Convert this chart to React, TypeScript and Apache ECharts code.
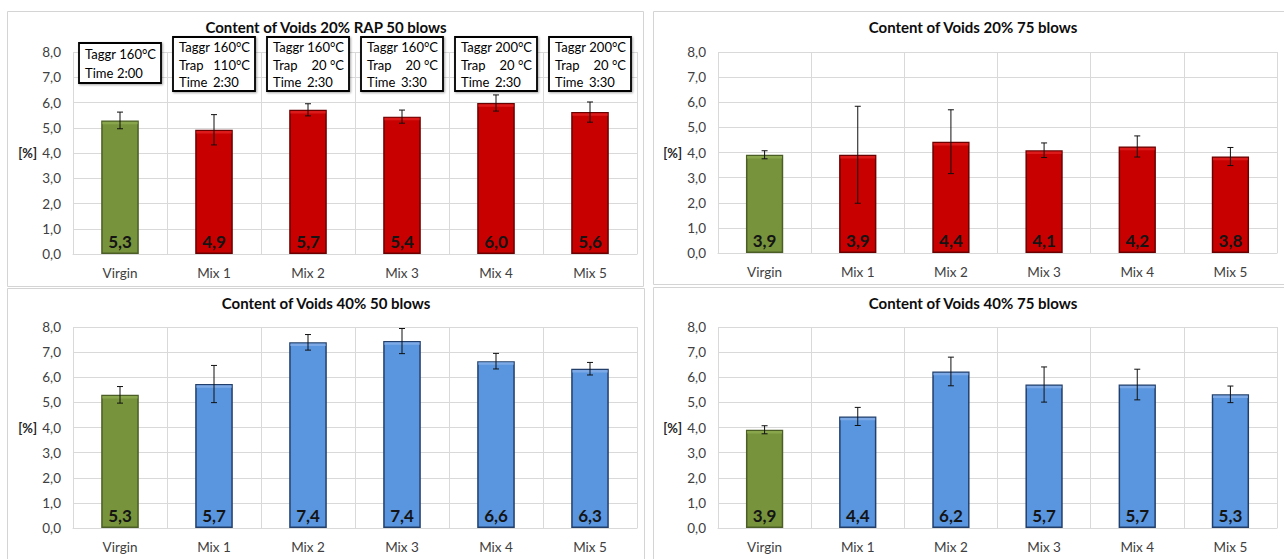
import React, { useEffect, useRef } from 'react';
import * as echarts from 'echarts';

const categories = ['Virgin', 'Mix 1', 'Mix 2', 'Mix 3', 'Mix 4', 'Mix 5'];

const titles = [
  'Content of Voids 20% RAP 50 blows',
  'Content of Voids 20% 75 blows',
  'Content of Voids 40% 50 blows',
  'Content of Voids 40% 75 blows',
];

// mean void content [%]
const voids20Rap50 = [5.29, 4.92, 5.71, 5.44, 5.98, 5.62];
const voids20Rap75 = [3.91, 3.91, 4.43, 4.09, 4.24, 3.84];
const voids40Rap50 = [5.3, 5.73, 7.39, 7.44, 6.64, 6.34];
const voids40Rap75 = [3.91, 4.44, 6.23, 5.71, 5.71, 5.32];

// standard deviations (error bars)
const err20Rap50 = [0.33, 0.6, 0.24, 0.26, 0.32, 0.4];
const err20Rap75 = [0.16, 1.93, 1.27, 0.29, 0.42, 0.36];
const err40Rap50 = [0.33, 0.74, 0.31, 0.5, 0.31, 0.25];
const err40Rap75 = [0.16, 0.36, 0.57, 0.7, 0.61, 0.33];

// y axis
const yMin = 0;
const yMax = 8;
const yStep = 1;

// annotation boxes of the first panel
const boxTaggr = ['160°C', '160°C', '160°C', '160°C', '200°C', '200°C'];
const boxTrap = ['', '110°C', '20 °C', '20 °C', '20 °C', '20 °C'];
const boxTime = ['2:00', '2:30', '2:30', '3:30', '2:30', '3:30'];

const FONT = 'Lato, "Open Sans", sans-serif';

const fmt = (v: number) => v.toFixed(1).replace('.', ',');

const PAL = {
  green: { fill: '#77933C', border: '#4A5E25', hl: '#8AA64C' },
  red: { fill: '#C80000', border: '#6A0000', hl: '#DC1A1A' },
  blue: { fill: '#5A96DF', border: '#223F6B', hl: '#7DAAE6' },
};

const grids = [
  { left: 73, top: 52, width: 564, height: 202 },
  { left: 718, top: 52, width: 559, height: 201 },
  { left: 73, top: 327, width: 564, height: 201 },
  { left: 718, top: 327, width: 559, height: 201 },
];

const panels = [
  { title: titles[0], values: voids20Rap50, errors: err20Rap50, main: PAL.red, tx: 326, ty: 27 },
  { title: titles[1], values: voids20Rap75, errors: err20Rap75, main: PAL.red, tx: 973, ty: 27 },
  { title: titles[2], values: voids40Rap50, errors: err40Rap50, main: PAL.blue, tx: 326, ty: 303 },
  { title: titles[3], values: voids40Rap75, errors: err40Rap75, main: PAL.blue, tx: 973, ty: 303 },
];

const borders = [
  { x: 7, y: 11, width: 636, height: 275 },
  { x: 653, y: 11, width: 660, height: 273 },
  { x: 7, y: 288, width: 637, height: 290 },
  { x: 653, y: 287, width: 660, height: 290 },
];

export default function App() {
  const ref = useRef<HTMLDivElement>(null);

  useEffect(() => {
    if (!ref.current) return;
    const chart = echarts.init(ref.current, undefined, { renderer: 'svg' });

    const colorOf = (p: number, i: number) => (i === 0 ? PAL.green : panels[p].main);

    const xAxis = panels.map((_, i) => ({
      type: 'category',
      gridIndex: i,
      data: categories,
      axisLine: { show: true, lineStyle: { color: '#d9d9d9', width: 1 } },
      axisTick: { show: false },
      splitLine: { show: true, lineStyle: { color: '#d9d9d9', width: 1 } },
      axisLabel: { color: '#404040', fontSize: 13.5, margin: 12, fontFamily: FONT },
    }));

    const yAxis = panels.map((_, i) => ({
      type: 'value',
      gridIndex: i,
      min: yMin,
      max: yMax,
      interval: yStep,
      name: '[%]',
      nameLocation: 'middle',
      nameRotate: 0,
      nameGap: 36,
      nameTextStyle: { color: '#262626', fontSize: 13, fontWeight: 'bold', fontFamily: FONT },
      axisLine: { show: false },
      axisTick: { show: false },
      splitLine: { show: true, lineStyle: { color: '#d9d9d9', width: 1 } },
      axisLabel: {
        color: '#404040',
        fontSize: 13.5,
        margin: 12,
        fontFamily: FONT,
        formatter: (v: number) => fmt(v),
      },
    }));

    const series: any[] = [];
    panels.forEach((p, pi) => {
      series.push({
        type: 'bar',
        xAxisIndex: pi,
        yAxisIndex: pi,
        barWidth: '40%',
        data: p.values.map((v, i) => ({
          value: v,
          itemStyle: {
            color: colorOf(pi, i).fill,
            borderColor: colorOf(pi, i).border,
            borderWidth: 1.5,
          },
        })),
        label: {
          show: true,
          position: 'insideBottom',
          distance: 4,
          formatter: (d: any) => fmt(d.value),
          color: '#141414',
          fontSize: 17,
          fontWeight: 'bold',
          fontFamily: FONT,
        },
        z: 2,
      });
      series.push({
        type: 'custom',
        xAxisIndex: pi,
        yAxisIndex: pi,
        z: 5,
        silent: true,
        encode: { x: 0, y: 1 },
        data: p.values.map((v, i) => [i, v, p.errors[i]]),
        renderItem: (params: any, api: any) => {
          const idx = api.value(0);
          const v = api.value(1);
          const e = api.value(2);
          const c = api.coord([idx, v]);
          const top = api.coord([idx, v + e]);
          const bot = api.coord([idx, v - e]);
          const band = api.size([1, 0])[0];
          const bw = band * 0.4;
          const col = colorOf(pi, params.dataIndex);
          const cap = 3;
          const ls = { stroke: '#111', lineWidth: 1 };
          return {
            type: 'group',
            children: [
              {
                type: 'rect',
                shape: { x: c[0] - bw / 2 + 1.2, y: c[1] + 1.2, width: bw - 2.4, height: 2.5 },
                style: { fill: col.hl },
              },
              { type: 'line', shape: { x1: c[0], y1: top[1], x2: c[0], y2: bot[1] }, style: ls },
              { type: 'line', shape: { x1: c[0] - cap, y1: top[1], x2: c[0] + cap, y2: top[1] }, style: ls },
              { type: 'line', shape: { x1: c[0] - cap, y1: bot[1], x2: c[0] + cap, y2: bot[1] }, style: ls },
            ],
          };
        },
      });
    });

    chart.setOption({
      animation: false,
      backgroundColor: '#ffffff',
      grid: grids.map((g) => ({ ...g, containLabel: false })),
      xAxis,
      yAxis,
      series,
    });

    const graphic: any[] = [];
    borders.forEach((b) => {
      graphic.push({
        type: 'rect',
        z: -10,
        shape: { x: b.x + 0.5, y: b.y + 0.5, width: b.width, height: b.height },
        style: { fill: 'none', stroke: '#d4d4d4', lineWidth: 1 },
        silent: true,
      });
    });
    panels.forEach((p) => {
      graphic.push({
        type: 'text',
        x: p.tx,
        y: p.ty,
        style: {
          text: p.title,
          fill: '#0d0d0d',
          font: `bold 15px ${FONT}`,
          textAlign: 'center',
          textVerticalAlign: 'middle',
        },
      });
    });

    const gTop = grids[0].top;
    categories.forEach((_, i) => {
      const px = chart.convertToPixel({ gridIndex: 0 }, [i, 0]) as number[];
      const cx = px[0];
      const w = 82;
      const left = cx - w / 2;
      const hasTrap = boxTrap[i] !== '';
      const top = hasTrap ? gTop - 15 : gTop - 9;
      const h = hasTrap ? 54 : 40;
      const lines: { label: string; value: string; right: boolean }[] = [
        { label: 'Taggr', value: boxTaggr[i], right: true },
      ];
      if (hasTrap) lines.push({ label: 'Trap', value: boxTrap[i], right: true });
      lines.push({ label: 'Time', value: boxTime[i], right: false });
      const lineH = hasTrap ? 17.5 : 19;
      const firstY = hasTrap ? top + 10 : top + 11;
      const children: any[] = [
        {
          type: 'rect',
          shape: { x: left, y: top, width: w, height: h },
          style: {
            fill: '#ffffff',
            stroke: '#000',
            lineWidth: 1.8,
            shadowBlur: 2,
            shadowOffsetX: 1,
            shadowOffsetY: 1,
            shadowColor: 'rgba(0,0,0,0.35)',
          },
        },
      ];
      lines.forEach((ln, k) => {
        const y = firstY + k * lineH;
        children.push({
          type: 'text',
          x: left + 6,
          y,
          style: { text: ln.label, fill: '#000', font: `13px ${FONT}`, textAlign: 'left', textVerticalAlign: 'middle' },
        });
        children.push({
          type: 'text',
          x: ln.right ? left + w - 5 : left + (hasTrap ? 40 : 38),
          y,
          style: {
            text: ln.value,
            fill: '#000',
            font: `13px ${FONT}`,
            textAlign: ln.right ? 'right' : 'left',
            textVerticalAlign: 'middle',
          },
        });
      });
      graphic.push({ type: 'group', z: 20, children });
    });

    chart.setOption({ graphic });

    return () => chart.dispose();
  }, []);

  return (
    <div
      ref={ref}
      style={{ position: 'absolute', left: 0, top: 0, width: 1284, height: 559, background: '#fff' }}
    />
  );
}
